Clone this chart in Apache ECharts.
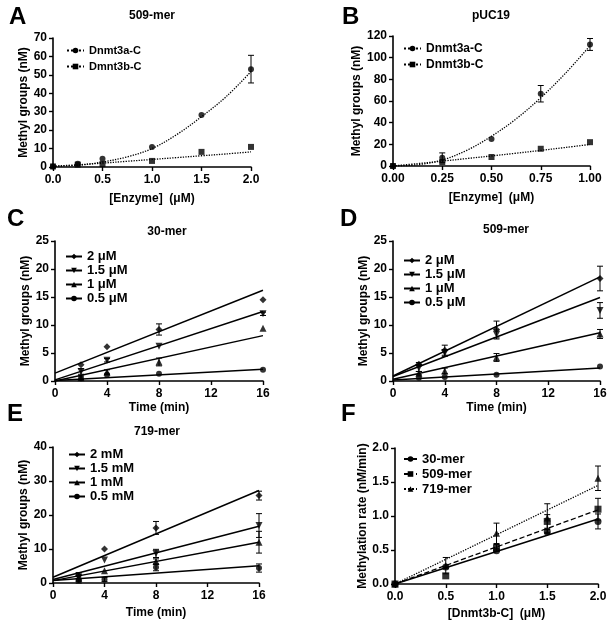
<!DOCTYPE html>
<html>
<head>
<meta charset="utf-8">
<script src="https://cdn.jsdelivr.net/npm/echarts@6/dist/echarts.min.js"></script>
<style>
  html, body { margin: 0; padding: 0; background: #fff; }
  #chart { width: 613px; height: 628px; }
</style>
</head>
<body>
<div id="chart"></div>
<script>
const FONT = '"Liberation Sans", Arial, sans-serif';

// A: 509-mer, methyl groups vs [Enzyme]
const enzymeA = [0, 0.25, 0.5, 1.0, 1.5, 2.0];
const dnmt3aA = [0.3, 1.8, 4.5, 10.9, 28.2, 53.1];
const dnmt3aErrA = [0, 0, 0, 0, 0, 7.5];
const dnmt3bA = [0.3, 1.3, 1.6, 3.3, 8.2, 10.9];
const curveXA = [0, 0.25, 0.5, 0.75, 1.0, 1.25, 1.5, 1.75, 2.0];
const curve3aA = [0.5, 0.9, 2.7, 5.5, 10, 17.6, 27.3, 38.2, 51.8];
const curve3bA = [0.4, 1.2, 2.1, 3.1, 4.1, 5.1, 6.1, 7.1, 8.2];

// B: pUC19
const enzymeB = [0, 0.25, 0.5, 0.75, 1.0];
const dnmt3aB = [0, 7.6, 25, 66.7, 112.2];
const dnmt3aErrB = [0, 4.5, 0, 7.6, 5.5];
const dnmt3bB = [0, 3.7, 8.3, 15.9, 22];
const curveXB = [0, 0.125, 0.25, 0.375, 0.5, 0.625, 0.75, 0.875, 1.0];
const curve3aB = [0, 1.2, 5.5, 14.5, 27.5, 43.5, 63, 85.5, 111];
const curve3bB = [0, 2.2, 4.5, 6.9, 9.3, 11.8, 14.4, 17.1, 19.9];

// C, D, E: time courses
const timePts = [2, 4, 8, 16];
const fitT = [0, 16];

const c2 = [2.9, 6.1, 9.2, 14.5], c2Err = [0, 0, 1.0, 0];
const c15 = [1.7, 3.7, 6.2, 12.0], c15Err = [0.5, 0.3, 0, 0.3];
const c1 = [0.6, 1.6, 3.4, 9.4], c1Err = [0.3, 0.4, 0.7, 0];
const c05 = [0.5, 1.1, 1.3, 2.0], c05Err = [0, 0, 0, 0];
const cFit2 = [1.4, 16.2], cFit15 = [0.2, 12.4], cFit1 = [0, 8.1], cFit05 = [0.1, 2.1];

const d2 = [3.0, 5.5, 9.2, 18.3], d2Err = [0.3, 0.9, 1.5, 2.2];
const d15 = [2.3, 5.0, 8.3, 12.6], d15Err = [0.6, 0.6, 0.8, 1.4];
const d1 = [1.4, 1.8, 4.2, 8.4], d1Err = [0.3, 0.5, 0.7, 0.8];
const d05 = [0.6, 0.7, 1.1, 2.6], d05Err = [0, 0, 0, 0];
const dFit2 = [0.9, 18.6], dFit15 = [0.8, 14.9], dFit1 = [0.3, 8.6], dFit05 = [0.2, 2.3];

const e2 = [2.2, 10.0, 16.2, 25.7], e2Err = [0.8, 0, 1.9, 1.3];
const e15 = [1.7, 6.8, 8.7, 16.9], e15Err = [0.5, 0, 1.2, 3.5];
const e1 = [1.5, 3.6, 6.3, 12.0], e1Err = [1.5, 0, 0.8, 3.2];
const e05 = [0.9, 1.0, 4.6, 4.4], e05Err = [0.4, 0.6, 1.0, 1.2];
const eFit2 = [1.7, 27.2], eFit15 = [1.0, 16.7], eFit1 = [0.7, 12.0], eFit05 = [0.7, 5.1];

// F: rate vs [Dnmt3b-C]
const concF = [0, 0.5, 1.0, 1.5, 2.0];
const fitXF = [0, 2.0];
const rate30 = [0, 0.25, 0.49, 0.77, 0.92], rate30Err = [0, 0, 0, 0.03, 0.11];
const rate509 = [0, 0.12, 0.53, 0.92, 1.10], rate509Err = [0, 0, 0.05, 0.1, 0.16];
const rate719 = [0, 0.27, 0.745, 0.97, 1.555], rate719Err = [0, 0.12, 0.15, 0.21, 0.18];
const fit30 = [0, 0.955], fit509 = [0, 1.09], fit719 = [0, 1.45];

const DOWN = 'path://M0,0 L10,0 L5,9 Z';

function pairs(xs, ys) {
  return xs.map((x, i) => [x, ys[i]]);
}

function points(idx, xs, ys, symbol, size) {
  return {
    type: 'scatter', xAxisIndex: idx, yAxisIndex: idx,
    data: pairs(xs, ys), symbol: symbol, symbolSize: size,
    itemStyle: { color: '#000' }, z: 4, silent: true
  };
}

function fitLine(idx, name, xs, ys, symbol, lineType, smooth) {
  return {
    type: 'line', name: name, xAxisIndex: idx, yAxisIndex: idx,
    data: pairs(xs, ys), symbol: symbol, showSymbol: false,
    smooth: smooth ? 0.35 : false,
    lineStyle: { color: '#000', width: lineType === 'solid' ? 1.5 : 1.3, type: lineType },
    itemStyle: { color: '#000' }, z: 3, silent: true
  };
}

function errorBar(params, api) {
  const x = api.value(0), y = api.value(1), e = api.value(2);
  const top = api.coord([x, y + e]);
  const bot = api.coord([x, Math.max(y - e, 0)]);
  const cap = 3;
  const style = { stroke: '#000', lineWidth: 1 };
  return {
    type: 'group',
    children: [
      { type: 'line', shape: { x1: top[0], y1: top[1], x2: bot[0], y2: bot[1] }, style: style },
      { type: 'line', shape: { x1: top[0] - cap, y1: top[1], x2: top[0] + cap, y2: top[1] }, style: style },
      { type: 'line', shape: { x1: bot[0] - cap, y1: bot[1], x2: bot[0] + cap, y2: bot[1] }, style: style }
    ]
  };
}

function errors(idx, xs, ys, es) {
  const data = xs.map((x, i) => [x, ys[i], es[i]]).filter(d => d[2] > 0);
  return {
    type: 'custom', xAxisIndex: idx, yAxisIndex: idx, data: data,
    encode: { x: 0, y: 1 }, renderItem: errorBar, z: 2, silent: true
  };
}

const axisText = { fontFamily: FONT, fontWeight: 'bold', fontSize: 12, color: '#000' };

function xAx(idx, max, interval, digits, name, gap) {
  return {
    type: 'value', gridIndex: idx, min: 0, max: max, interval: interval,
    name: name, nameLocation: 'middle', nameGap: gap, nameTextStyle: axisText,
    axisLine: { onZero: false, lineStyle: { color: '#000', width: 1.6 } },
    axisTick: { length: 4, lineStyle: { color: '#000', width: 1.4 } },
    axisLabel: Object.assign({ margin: 7, formatter: v => v.toFixed(digits) }, axisText),
    splitLine: { show: false }
  };
}

function yAx(idx, max, interval, digits, name, gap) {
  return {
    type: 'value', gridIndex: idx, min: 0, max: max, interval: interval,
    name: name, nameLocation: 'middle', nameGap: gap, nameTextStyle: axisText,
    axisLine: { onZero: false, lineStyle: { color: '#000', width: 1.6 } },
    axisTick: { length: 4, lineStyle: { color: '#000', width: 1.4 } },
    axisLabel: Object.assign({ margin: 6, formatter: v => v.toFixed(digits) }, axisText),
    splitLine: { show: false }
  };
}

function legendAt(left, top, names, fontSize, itemWidth, lineHeight) {
  return {
    left: left, top: top, orient: 'vertical', data: names, selectedMode: false,
    itemWidth: itemWidth, itemHeight: 7, itemGap: 1, padding: 0,
    textStyle: { fontFamily: FONT, fontWeight: 'bold', fontSize: fontSize, color: '#000', lineHeight: lineHeight }
  };
}

function label(x, y, text, size) {
  return {
    type: 'text', x: x, y: y,
    style: { text: text, fill: '#000', font: 'bold ' + size + 'px ' + FONT, textAlign: size > 14 ? 'left' : 'center', textVerticalAlign: 'middle' }
  };
}

const uM = ' \u03bcM';

const option = {
  animation: false,
  backgroundColor: '#fff',
  grid: [
    { left: 53, top: 38, width: 198, height: 129 },
    { left: 393, top: 36, width: 197, height: 130 },
    { left: 55, top: 241, width: 208, height: 140 },
    { left: 393, top: 241, width: 207, height: 140 },
    { left: 53, top: 447, width: 206, height: 136 },
    { left: 395, top: 448, width: 203, height: 136 }
  ],
  xAxis: [
    xAx(0, 2, 0.5, 1, '[Enzyme]  (\u03bcM)', 26),
    xAx(1, 1, 0.25, 2, '[Enzyme]  (\u03bcM)', 26),
    xAx(2, 16, 4, 0, 'Time (min)', 21),
    xAx(3, 16, 4, 0, 'Time (min)', 21),
    xAx(4, 16, 4, 0, 'Time (min)', 24),
    xAx(5, 2, 0.5, 1, '[Dnmt3b-C]  (\u03bcM)', 24)
  ],
  yAxis: [
    yAx(0, 70, 10, 0, 'Methyl groups (nM)', 15),
    yAx(1, 120, 20, 0, 'Methyl groups (nM)', 17),
    yAx(2, 25, 5, 0, 'Methyl groups (nM)', 22),
    yAx(3, 25, 5, 0, 'Methyl groups (nM)', 20),
    yAx(4, 40, 10, 0, 'Methyl groups (nM)', 20),
    yAx(5, 2, 0.5, 1, 'Methylation rate (nM/min)', 22)
  ],
  legend: [
    legendAt(66, 43, ['Dnmt3a-C', 'Dmnt3b-C'], 11, 17, 15),
    legendAt(403, 41, ['Dnmt3a-C', 'Dnmt3b-C'], 12, 17, 15),
    legendAt(65, 250, ['2' + uM, '1.5' + uM, '1' + uM, '0.5' + uM], 13, 16, 13),
    legendAt(403, 254, ['2' + uM, '1.5' + uM, '1' + uM, '0.5' + uM], 13, 16, 13),
    legendAt(68, 448, ['2 mM', '1.5 mM', '1 mM', '0.5 mM'], 13, 16, 13),
    legendAt(403, 452, ['30-mer', '509-mer', '719-mer'], 13, 13, 14)
  ],
  graphic: [
    label(9, 17, 'A', 24), label(342, 17, 'B', 24),
    label(7, 219, 'C', 24), label(340, 219, 'D', 24),
    label(7, 414, 'E', 24), label(341, 414, 'F', 24),
    label(152, 16, '509-mer', 12), label(491, 16, 'pUC19', 12),
    label(167, 232, '30-mer', 12), label(506, 230, '509-mer', 12),
    label(157, 432, '719-mer', 12)
  ],
  series: [
    // A
    fitLine(0, 'Dnmt3a-C', curveXA, curve3aA, 'circle', 'dotted', true),
    fitLine(0, 'Dmnt3b-C', curveXA, curve3bA, 'rect', 'dotted', true),
    points(0, enzymeA, dnmt3aA, 'circle', 6),
    points(0, enzymeA, dnmt3bA, 'rect', 6),
    errors(0, enzymeA, dnmt3aA, dnmt3aErrA),
    // B
    fitLine(1, 'Dnmt3a-C', curveXB, curve3aB, 'circle', 'dotted', true),
    fitLine(1, 'Dnmt3b-C', curveXB, curve3bB, 'rect', 'dotted', true),
    points(1, enzymeB, dnmt3aB, 'circle', 6),
    points(1, enzymeB, dnmt3bB, 'rect', 6),
    errors(1, enzymeB, dnmt3aB, dnmt3aErrB),
    // C
    fitLine(2, '2' + uM, fitT, cFit2, 'diamond', 'solid'),
    fitLine(2, '1.5' + uM, fitT, cFit15, DOWN, 'solid'),
    fitLine(2, '1' + uM, fitT, cFit1, 'triangle', 'solid'),
    fitLine(2, '0.5' + uM, fitT, cFit05, 'circle', 'solid'),
    points(2, timePts, c2, 'diamond', 7),
    points(2, timePts, c15, DOWN, 7),
    points(2, timePts, c1, 'triangle', 7),
    points(2, timePts, c05, 'circle', 6),
    errors(2, timePts, c2, c2Err),
    errors(2, timePts, c15, c15Err),
    errors(2, timePts, c1, c1Err),
    errors(2, timePts, c05, c05Err),
    // D
    fitLine(3, '2' + uM, fitT, dFit2, 'diamond', 'solid'),
    fitLine(3, '1.5' + uM, fitT, dFit15, DOWN, 'solid'),
    fitLine(3, '1' + uM, fitT, dFit1, 'triangle', 'solid'),
    fitLine(3, '0.5' + uM, fitT, dFit05, 'circle', 'solid'),
    points(3, timePts, d2, 'diamond', 7),
    points(3, timePts, d15, DOWN, 7),
    points(3, timePts, d1, 'triangle', 7),
    points(3, timePts, d05, 'circle', 6),
    errors(3, timePts, d2, d2Err),
    errors(3, timePts, d15, d15Err),
    errors(3, timePts, d1, d1Err),
    errors(3, timePts, d05, d05Err),
    // E
    fitLine(4, '2 mM', fitT, eFit2, 'diamond', 'solid'),
    fitLine(4, '1.5 mM', fitT, eFit15, DOWN, 'solid'),
    fitLine(4, '1 mM', fitT, eFit1, 'triangle', 'solid'),
    fitLine(4, '0.5 mM', fitT, eFit05, 'circle', 'solid'),
    points(4, timePts, e2, 'diamond', 7),
    points(4, timePts, e15, DOWN, 7),
    points(4, timePts, e1, 'triangle', 7),
    points(4, timePts, e05, 'circle', 6),
    errors(4, timePts, e2, e2Err),
    errors(4, timePts, e15, e15Err),
    errors(4, timePts, e1, e1Err),
    errors(4, timePts, e05, e05Err),
    // F
    fitLine(5, '30-mer', fitXF, fit30, 'circle', 'solid'),
    fitLine(5, '509-mer', fitXF, fit509, 'rect', 'dashed'),
    fitLine(5, '719-mer', fitXF, fit719, 'triangle', 'dotted'),
    points(5, concF, rate30, 'circle', 7),
    points(5, concF, rate509, 'rect', 7),
    points(5, concF, rate719, 'triangle', 7),
    errors(5, concF, rate30, rate30Err),
    errors(5, concF, rate509, rate509Err),
    errors(5, concF, rate719, rate719Err)
  ]
};

const chart = echarts.init(document.getElementById('chart'), null, { renderer: 'canvas' });
chart.setOption(option);
</script>
</body>
</html>
